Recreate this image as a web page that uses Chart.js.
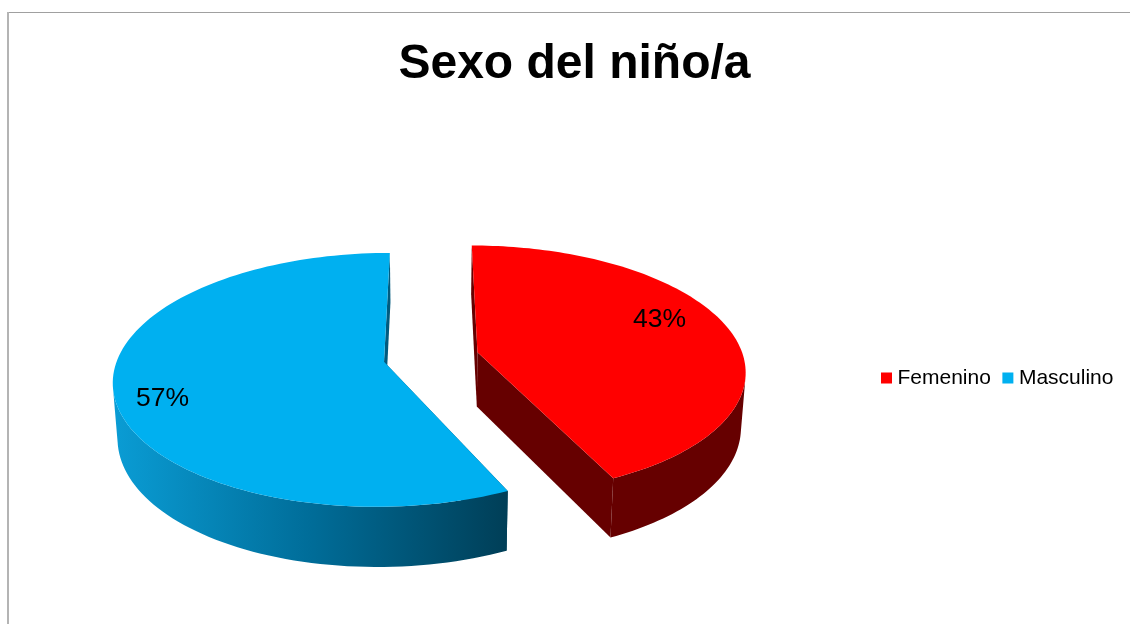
<!DOCTYPE html>
<html>
<head>
<meta charset="utf-8">
<title>Sexo del niño/a</title>
<script src="https://cdn.jsdelivr.net/npm/chart.js@4"></script>
<style>
  body { margin: 0; background: #fff; }
  canvas { display: block; }
</style>
</head>
<body>
<canvas id="sexoChart" width="1130" height="624"></canvas>
<script>
// Chart data
const categories = ['Femenino', 'Masculino'];
const percentages = [43, 57];
const sliceColors = ['#ff0000', '#00b0f0'];
const chartTitle = 'Sexo del niño/a';

// Projection of the flat pie onto the tilted 3D disc
const view = { cx: 431, cy: 357, rx: 266, ry: 123, perspective: 0.141, explode: 0.18 };
const depth = { base: 54.5, tilt: 5.5, shrink: 0.985 };
const labelSpots = [{ r: 0.725, dy: -14 }, { r: 0.822, dy: 14 }];

function project(x, v) {
    const s = 1 / (1 - view.perspective * v);
    return { x: view.cx + view.rx * x * s, y: view.cy + view.ry * v * s };
}

function projectBottom(x, v) {
    const p = project(x, v);
    return {
        x: view.cx + (p.x - view.cx) * depth.shrink,
        y: p.y + depth.base + depth.tilt * v
    };
}

function tracePoly(ctx, points) {
    points.forEach((p, i) => (i ? ctx.lineTo(p.x, p.y) : ctx.moveTo(p.x, p.y)));
    ctx.closePath();
}

function fillPoly(ctx, points, fill) {
    ctx.beginPath();
    tracePoly(ctx, points);
    ctx.fillStyle = fill;
    ctx.fill();
}

function signedArea(points) {
    let sum = 0;
    points.forEach((p, i) => {
        const q = points[(i + 1) % points.length];
        sum += p.x * q.y - q.x * p.y;
    });
    return sum;
}

function wallPaint(ctx, index) {
    if (index === 0) return '#660000';
    // The blue wall darkens from left to right
    const g = ctx.createLinearGradient(115, 0, 505, 0);
    g.addColorStop(0, '#0a9cd4');
    g.addColorStop(0.5, '#006d99');
    g.addColorStop(1, '#003f58');
    return g;
}

// Draws each slice from the angles the doughnut controller worked out
const pie3d = {
    id: 'pie3d',
    beforeDraw(chart) {
        const { ctx } = chart;
        ctx.save();
        ctx.fillStyle = '#a0a0a0';
        ctx.fillRect(8, 12, 1122, 1);
        ctx.fillStyle = '#b4b4b4';
        ctx.fillRect(7, 12, 2, 612);
        ctx.restore();
    },
    afterLayout(chart) {
        chart.titleBlock.left = 9;
        chart.titleBlock.right = 1140;
        const legend = chart.legend;
        legend.left = 869.5;
        legend.right = 1200;
        legend.top = 351;
        legend.bottom = 396;
    },
    beforeDatasetsDraw(chart) {
        const { ctx } = chart;
        const arcs = chart.getDatasetMeta(0).data;
        ctx.save();
        arcs.forEach((arc, index) => {
            const mid = (arc.startAngle + arc.endAngle) / 2;
            const ox = Math.cos(mid) * view.explode;
            const ov = Math.sin(mid) * view.explode;
            const steps = 120;
            const rim = [];
            for (let i = 0; i <= steps; i++) {
                const a = arc.startAngle + (arc.endAngle - arc.startAngle) * i / steps;
                rim.push([ox + Math.cos(a), ov + Math.sin(a)]);
            }
            const paint = wallPaint(ctx, index);

            // cut faces first
            [rim[0], rim[steps]].forEach(edge => {
                fillPoly(ctx, [project(ox, ov), project(edge[0], edge[1]),
                    projectBottom(edge[0], edge[1]), projectBottom(ox, ov)], paint);
            });

            // outer wall: only the quads facing the viewer, in a single path so no seams show
            ctx.beginPath();
            for (let i = 0; i < steps; i++) {
                const quad = [project(rim[i][0], rim[i][1]), project(rim[i + 1][0], rim[i + 1][1]),
                    projectBottom(rim[i + 1][0], rim[i + 1][1]), projectBottom(rim[i][0], rim[i][1])];
                if (signedArea(quad) < 0) tracePoly(ctx, quad);
            }
            ctx.fillStyle = paint;
            ctx.fill();

            fillPoly(ctx, [project(ox, ov)].concat(rim.map(p => project(p[0], p[1]))), sliceColors[index]);
        });

        // Percentage labels
        ctx.fillStyle = '#000';
        ctx.font = '26.5px "Liberation Sans", Arial, sans-serif';
        ctx.textAlign = 'center';
        ctx.textBaseline = 'middle';
        arcs.forEach((arc, index) => {
            const mid = (arc.startAngle + arc.endAngle) / 2;
            const r = view.explode + labelSpots[index].r;
            const p = project(Math.cos(mid) * r, Math.sin(mid) * r);
            ctx.fillText(percentages[index] + '%', p.x, p.y + labelSpots[index].dy);
        });
        ctx.restore();
        return false;
    }
};

new Chart(document.getElementById('sexoChart'), {
    type: 'pie',
    data: {
        labels: categories,
        datasets: [{
            data: percentages,
            backgroundColor: sliceColors,
            borderWidth: 0
        }]
    },
    options: {
        responsive: false,
        animation: false,
        plugins: {
            title: {
                display: true,
                text: chartTitle,
                color: '#000',
                font: { family: '"Liberation Sans", Arial, sans-serif', size: 48, weight: 'bold' },
                padding: { top: 36, bottom: 20 }
            },
            legend: {
                position: 'bottom',
                align: 'start',
                labels: {
                    color: '#000',
                    font: { family: '"Liberation Sans", Arial, sans-serif', size: 21 },
                    usePointStyle: true,
                    pointStyle: 'rect',
                    boxWidth: 1,
                    boxHeight: 11,
                    padding: 16.5
                }
            },
            tooltip: { enabled: false }
        }
    },
    plugins: [pie3d]
});
</script>
</body>
</html>
